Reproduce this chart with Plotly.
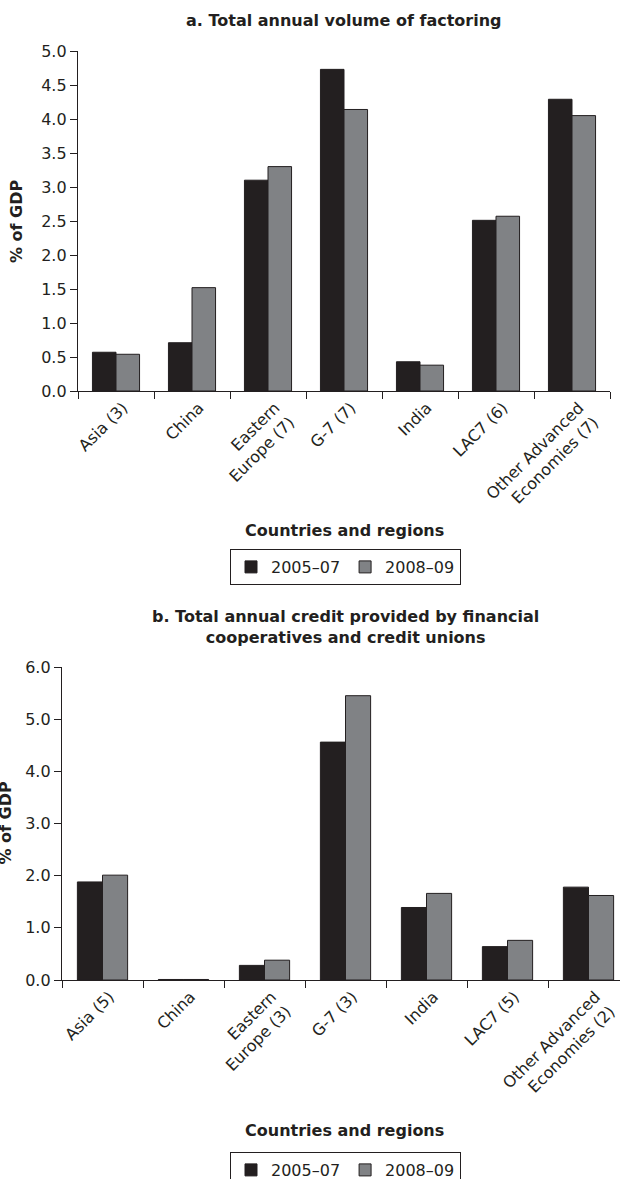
import plotly.graph_objects as go

# Panel a: total annual volume of factoring (% of GDP)
cats_a = ["Asia (3)", "China", "Eastern<br>Europe (7)", "G-7 (7)", "India",
          "LAC7 (6)", "Other Advanced<br>Economies (7)"]
fact_0507 = [0.57, 0.71, 3.10, 4.73, 0.43, 2.51, 4.29]
fact_0809 = [0.54, 1.52, 3.30, 4.14, 0.38, 2.57, 4.05]

# Panel b: total annual credit from financial cooperatives and credit unions (% of GDP)
cats_b = ["Asia (5)", "China", "Eastern<br>Europe (3)", "G-7 (3)", "India",
          "LAC7 (5)", "Other Advanced<br>Economies (2)"]
coop_0507 = [1.88, 0.01, 0.28, 4.56, 1.39, 0.64, 1.78]
coop_0809 = [2.01, 0.01, 0.38, 5.45, 1.66, 0.76, 1.62]

periods = ["2005–07", "2008–09"]

W, H = 620, 1179
INK = "#231f20"
GREY = "#808285"
FONT = "DejaVu Sans, Verdana, sans-serif"
TICK_SIZE = 16


def px_x(v):
    return v / W


def px_y(v):
    return 1 - v / H


fig = go.Figure()

for vals, name, col in [(fact_0507, periods[0], INK), (fact_0809, periods[1], GREY)]:
    fig.add_trace(go.Bar(x=cats_a, y=vals, name=name, xaxis="x", yaxis="y",
                         marker=dict(color=col, line=dict(color=INK, width=1)),
                         legend="legend"))

for vals, name, col in [(coop_0507, periods[0], INK), (coop_0809, periods[1], GREY)]:
    fig.add_trace(go.Bar(x=cats_b, y=vals, name=name, xaxis="x2", yaxis="y2",
                         marker=dict(color=col, line=dict(color=INK, width=1)),
                         legend="legend2"))

axis_common = dict(showline=True, linecolor=INK, linewidth=1.3, ticks="outside",
                   ticklen=7, tickcolor=INK, tickwidth=1.3, showgrid=False,
                   zeroline=False, tickfont=dict(family=FONT, size=TICK_SIZE, color=INK))
cat_axis = dict(type="category", tickson="boundaries", tickangle=-45,
                ticklabelshift=7)

# bottom panel extends beyond the right edge of the page
b_left, b_step = 62, 81
b_right_cat = (W - b_left) / b_step - 0.5

legend_common = dict(orientation="h", xanchor="center", yanchor="top",
                     bordercolor=INK, borderwidth=1, itemwidth=30,
                     font=dict(family=FONT, size=TICK_SIZE, color=INK))

fig.update_layout(
    width=W, height=H,
    margin=dict(l=0, r=0, t=0, b=0, autoexpand=False),
    paper_bgcolor="white", plot_bgcolor="white",
    barmode="group", bargap=0.38, bargroupgap=0,
    font=dict(family=FONT, color=INK),
    xaxis=dict(domain=[px_x(78), px_x(610)], anchor="y", range=[-0.5, 6.5],
               **cat_axis, **axis_common),
    yaxis=dict(domain=[px_y(391), px_y(51)], anchor="x", range=[0, 5], dtick=0.5,
               tickformat=".1f", **axis_common),
    xaxis2=dict(domain=[px_x(b_left), 1], anchor="y2", range=[-0.5, b_right_cat],
                **cat_axis, **axis_common),
    yaxis2=dict(domain=[px_y(980), px_y(667)], anchor="x2", range=[0, 6], dtick=1,
                tickformat=".1f", **axis_common),
    legend=dict(x=px_x(345.5), y=px_y(549), **legend_common),
    legend2=dict(x=px_x(345.5), y=px_y(1152), **legend_common),
)

title_font = dict(family=FONT, size=16, color=INK)
annotations = [
    dict(text="<b>a. Total annual volume of factoring</b>", x=px_x(344), y=px_y(21)),
    dict(text="<b>b. Total annual credit provided by financial<br>"
              "cooperatives and credit unions</b>", x=px_x(345.5), y=px_y(627)),
    dict(text="<b>Countries and regions</b>", x=px_x(345), y=px_y(530)),
    dict(text="<b>Countries and regions</b>", x=px_x(345), y=px_y(1130)),
    dict(text="<b>% of GDP</b>", x=px_x(17), y=px_y(221), textangle=-90),
    dict(text="<b>% of GDP</b>", x=px_x(4.5), y=px_y(823), textangle=-90),
]
for a in annotations:
    fig.add_annotation(xref="paper", yref="paper", showarrow=False,
                       xanchor="center", yanchor="middle", font=title_font, **a)

fig.write_html("out.html")
